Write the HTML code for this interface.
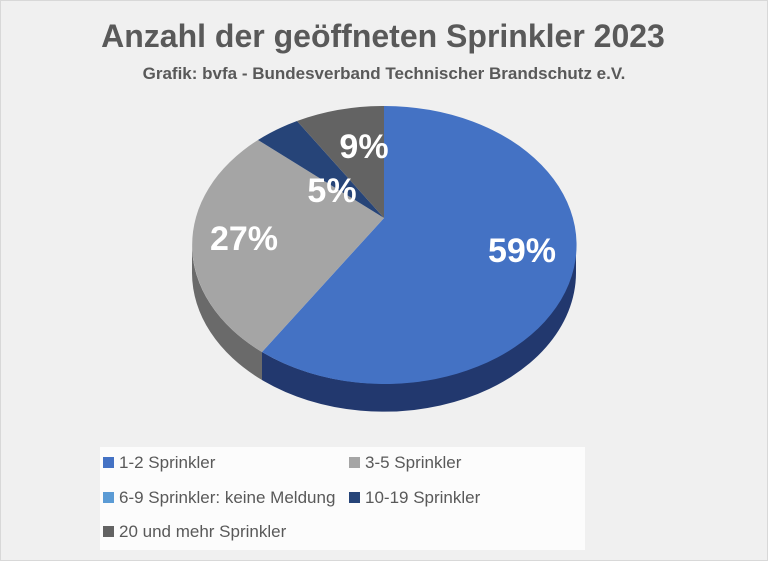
<!DOCTYPE html>
<html><head><meta charset="utf-8"><style>
body{margin:0;width:768px;height:561px;overflow:hidden;background:#fff;font-family:"Liberation Sans",sans-serif}
.bg{position:absolute;left:0;top:0;width:766px;height:559px;background:#f0f0f0;border:1px solid #d8d8d8}
.leg{position:absolute;left:100px;top:447px;width:485px;height:103px;background:#fcfcfc}
.it{position:absolute;font-size:17px;color:#595959;white-space:nowrap}
.it i{display:inline-block;width:11px;height:11px;margin-right:5px;vertical-align:0}
</style></head><body>
<div class="bg"></div>
<svg width="768" height="561" style="position:absolute;left:0;top:0">
<text x="383" y="47" text-anchor="middle" font-size="32" font-weight="bold" fill="#595959" font-family="Liberation Sans,sans-serif">Anzahl der geöffneten Sprinkler 2023</text>
<text x="384" y="79" text-anchor="middle" font-size="17" font-weight="bold" fill="#595959" font-family="Liberation Sans,sans-serif">Grafik: bvfa - Bundesverband Technischer Brandschutz e.V.</text>
<path d="M576,245 A192,139 0 0 1 262,352 L262,380 A192,139 0 0 0 576,273 Z" fill="#22386e"/>
<path d="M262,352 A192,139 0 0 1 192,245 L192,273 A192,139 0 0 0 262,380 Z" fill="#6a6a6a"/>
<path d="M384,218 L384,106 A192,139 0 1 1 262,352 Z" fill="#4472c4"/>
<path d="M384,218 L262,352 A192,139 0 0 1 258,140 Z" fill="#a5a5a5"/>
<path d="M384,218 L258,140 A192,139 0 0 1 297,121 Z" fill="#264478"/>
<path d="M384,218 L297,121 A192,139 0 0 1 384,106 Z" fill="#636363"/>
<g font-family="Liberation Sans,sans-serif" font-weight="bold" fill="#fff" text-anchor="middle">
<text x="364" y="158" font-size="34">9%</text>
<text x="332" y="202" font-size="34">5%</text>
<text x="244" y="250" font-size="34">27%</text>
<text x="522" y="262" font-size="34">59%</text>
</g>
</svg>
<div class="leg"></div>
<div class="it" style="left:103px;top:453px"><i style="background:#4472c4"></i>1-2 Sprinkler</div>
<div class="it" style="left:349px;top:453px"><i style="background:#a5a5a5"></i>3-5 Sprinkler</div>
<div class="it" style="left:103px;top:488px"><i style="background:#5b9bd5"></i>6-9 Sprinkler: keine Meldung</div>
<div class="it" style="left:349px;top:488px"><i style="background:#264478"></i>10-19 Sprinkler</div>
<div class="it" style="left:103px;top:522px"><i style="background:#636363"></i>20 und mehr Sprinkler</div>
</body></html>
